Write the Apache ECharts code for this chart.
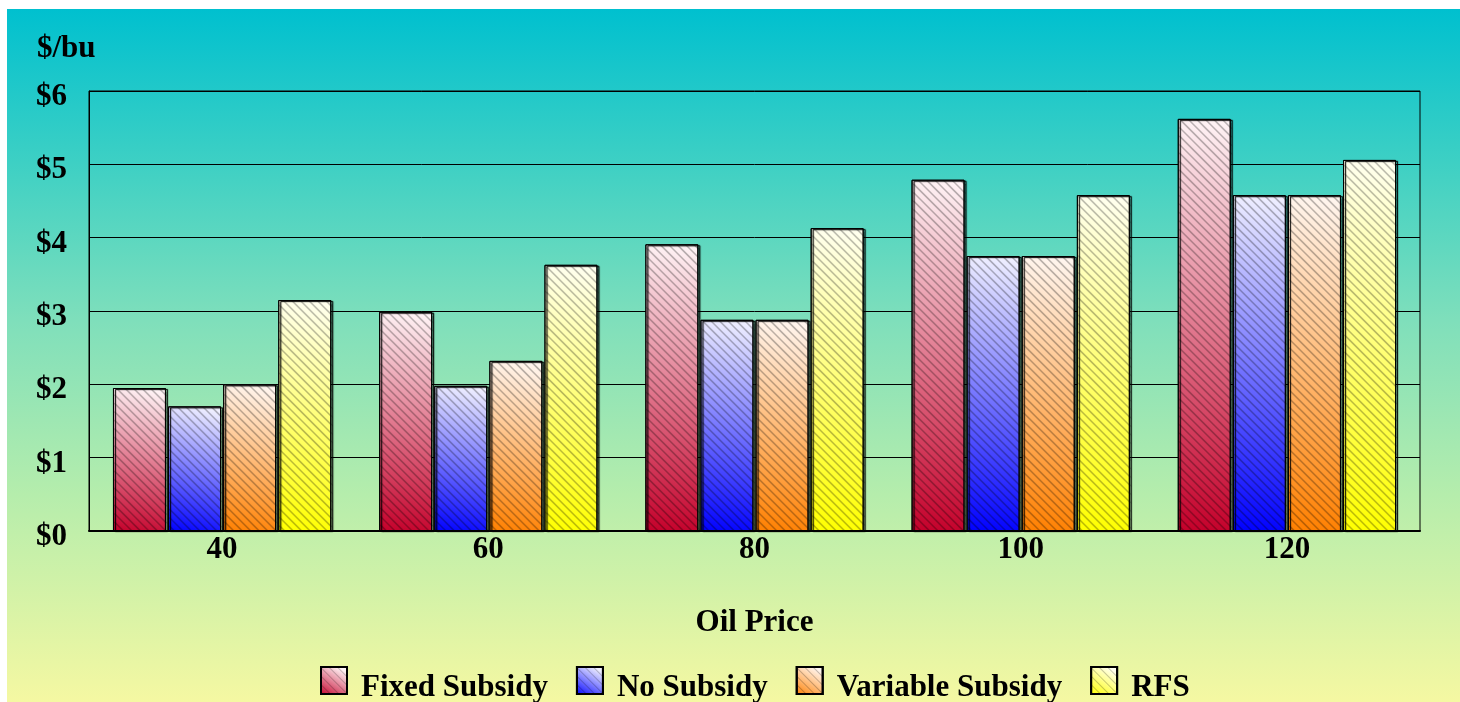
<!DOCTYPE html>
<html><head><meta charset="utf-8">
<script src="https://cdn.jsdelivr.net/npm/echarts@6/dist/echarts.min.js"></script>
<style>
html,body{margin:0;padding:0;background:#fff;width:1460px;height:702px;overflow:hidden}
#bg{position:absolute;left:7px;top:9px;width:1453px;height:693px;
background:linear-gradient(to bottom,#00c0cf 0%,#3dd0c4 22%,#7fdfbb 45%,#b5edac 70%,#f5f8a2 100%);}
#chart{position:absolute;left:0;top:0;width:1460px;height:702px}
</style></head>
<body><div id="bg"></div><div id="chart"></div>
<script>
const categories = ['40','60','80','100','120'];
const fixedSubsidy = [1.95, 2.99, 3.91, 4.79, 5.62];
const noSubsidy = [1.70, 1.98, 2.88, 3.75, 4.58];
const variableSubsidy = [2.00, 2.32, 2.88, 3.75, 4.58];
const rfs = [3.15, 3.63, 4.13, 4.58, 5.06];
const yTicks = ['$0','$1','$2','$3','$4','$5','$6'];

const font = '"Liberation Serif","Times New Roman",serif';
function grad(c0, c1){
  return {type:'linear',x:0,y:1,x2:0.6,y2:0,colorStops:[{offset:0,color:c0},{offset:1,color:c1}]};
}
const decal = {symbol:'rect', dashArrayX:[1,0], dashArrayY:[1,5], rotation:Math.PI/4, color:'rgba(0,0,0,0.22)', symbolSize:1};
function mk(name, data, c0, c1){
  return {name, type:'bar', data, barCategoryGap:'18%', barGap:'4%',
    itemStyle:{color:grad(c0,c1), borderColor:'#000', borderWidth:1, decal,
      shadowColor:'rgba(0,0,0,0.35)', shadowOffsetX:2, shadowOffsetY:1, shadowBlur:1}};
}
const chart = echarts.init(document.getElementById('chart'));
chart.setOption({
  backgroundColor:'transparent',
  animation:false,
  aria:{enabled:true, decal:{show:true}},
  title:{text:'$/bu', left:32, top:28, textStyle:{fontFamily:font, fontWeight:'bold', fontSize:31, color:'#000'}},
  grid:{left:89, top:91, width:1331, height:440, show:true, borderColor:'#000', borderWidth:1, backgroundColor:'transparent'},
  legend:{left:315, top:661, icon:'rect', itemWidth:26, itemHeight:27, itemGap:28,
    formatter:'{a|{name}}',
    textStyle:{fontFamily:font, fontWeight:'bold', fontSize:31, color:'#000',
      rich:{a:{fontFamily:font, fontWeight:'bold', fontSize:31, color:'#000', padding:[14,0,0,9]}}},
    data:['Fixed Subsidy','No Subsidy','Variable Subsidy','RFS']},
  xAxis:{type:'category', data:categories, name:'Oil Price', nameLocation:'middle', nameGap:76,
    nameTextStyle:{fontFamily:font, fontWeight:'bold', fontSize:31, color:'#000'},
    axisLine:{lineStyle:{color:'#000', width:2}}, axisTick:{show:false},
    axisLabel:{fontFamily:font, fontWeight:'bold', fontSize:31, color:'#000', margin:3}},
  yAxis:{type:'value', min:0, max:6, interval:1,
    axisLine:{show:true, lineStyle:{color:'#000'}}, axisTick:{show:false},
    splitLine:{lineStyle:{color:'#000', width:1}},
    axisLabel:{color:'#000', align:'left', margin:53,
      formatter:(v)=>'{a|'+yTicks[v]+'}',
      rich:{a:{fontFamily:font, fontWeight:'bold', fontSize:31, color:'#000', padding:[12,0,0,0]}}}},
  series:[
    mk('Fixed Subsidy', fixedSubsidy, '#c4002a', '#fff4f6'),
    mk('No Subsidy', noSubsidy, '#0000ff', '#f0f0ff'),
    mk('Variable Subsidy', variableSubsidy, '#ff8000', '#fff6f0'),
    mk('RFS', rfs, '#ffff00', '#fffff0')
  ]
});
</script></body></html>
